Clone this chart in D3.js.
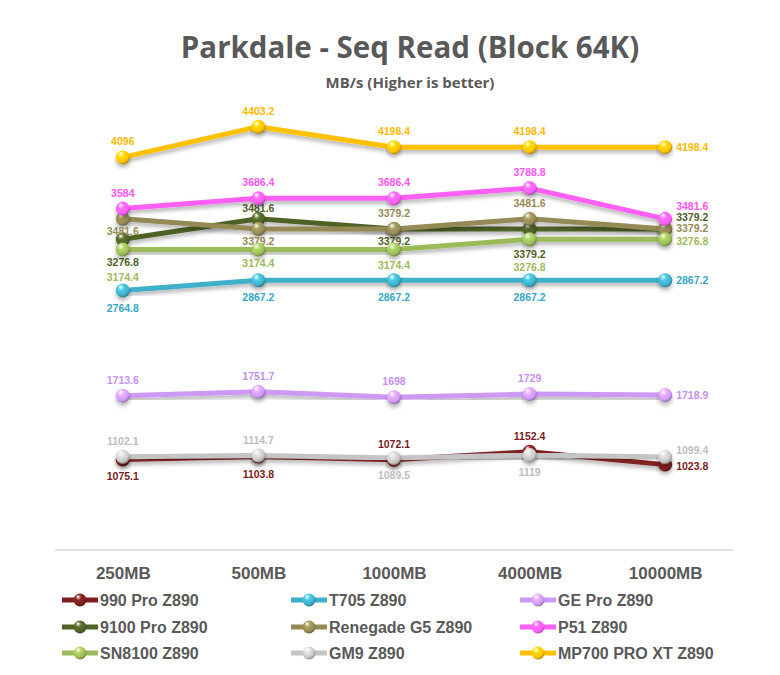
<!DOCTYPE html>
<html>
<head>
<meta charset="utf-8">
<script src="https://cdn.jsdelivr.net/npm/d3@7"></script>
<style>
  body { margin: 0; background: #fff; }
  svg { display: block; }
</style>
</head>
<body>
<script>
// chart data
const sizes = ['250MB', '500MB', '1000MB', '4000MB', '10000MB'];
const seriesNames = ['990 Pro Z890', 'T705 Z890', 'GE Pro Z890', '9100 Pro Z890', 'Renegade G5 Z890',
    'P51 Z890', 'SN8100 Z890', 'GM9 Z890', 'MP700 PRO XT Z890'];
const pro990 = [1075.1, 1103.8, 1072.1, 1152.4, 1023.8];
const t705 = [2764.8, 2867.2, 2867.2, 2867.2, 2867.2];
const gePro = [1713.6, 1751.7, 1698, 1729, 1718.9];
const pro9100 = [3276.8, 3481.6, 3379.2, 3379.2, 3379.2];
const renegadeG5 = [3481.6, 3379.2, 3379.2, 3481.6, 3379.2];
const p51 = [3584, 3686.4, 3686.4, 3788.8, 3481.6];
const sn8100 = [3174.4, 3174.4, 3174.4, 3276.8, 3276.8];
const gm9 = [1102.1, 1114.7, 1089.5, 1119, 1099.4];
const mp700 = [4096, 4403.2, 4198.4, 4198.4, 4198.4];
const allValues = [pro990, t705, gePro, pro9100, renegadeG5, p51, sn8100, gm9, mp700];

// styles
const colors = ['#7f2020', '#3fb0ca', '#cc99f5', '#4f6228', '#948a54', '#ff5ef5', '#9bbb59', '#c4c4c4', '#ffc000'];
const labelColors = ['#7a1c1c', '#35a7c4', '#c490f0', '#4f6228', '#948a54', '#ff55f2', '#9bbb59', '#bdbdbd', '#ffb800'];
// label placement per point: a = above, b = below, r = right, then extra dy
const labelPos = [
    ['b', 'b', 'a', 'a', 'r+1'],
    ['b', 'b', 'b', 'b', 'r'],
    ['a', 'a', 'a', 'a', 'r'],
    ['b+6', 'a+5', 'b-5', 'b+8', 'r-12'],
    ['b-5', 'b-5', 'a', 'a', 'r-1'],
    ['a', 'a', 'a', 'a', 'r-13'],
    ['b+10', 'b-4', 'b-2', 'b+11', 'r+2'],
    ['a', 'a', 'b', 'b', 'r-7'],
    ['a', 'a', 'a', 'a', 'r']
];

const W = 780, H = 675;
const svg = d3.select('body').append('svg')
    .attr('width', W)
    .attr('height', H)
    .style('font-family', 'Liberation Sans, Arial, sans-serif');

const defs = svg.append('defs');

const shadow = defs.append('filter')
    .attr('id', 'shadow')
    .attr('x', '-10%').attr('y', '-50%')
    .attr('width', '120%').attr('height', '200%');
shadow.append('feDropShadow')
    .attr('dx', 0).attr('dy', 3)
    .attr('stdDeviation', 2)
    .attr('flood-color', '#000')
    .attr('flood-opacity', 0.3);

colors.forEach((c, i) => {
    const g = defs.append('radialGradient')
        .attr('id', 'ball' + i)
        .attr('cx', '40%').attr('cy', '35%').attr('r', '65%')
        .attr('fx', '35%').attr('fy', '25%');
    g.append('stop').attr('offset', '0%').attr('stop-color', '#fff').attr('stop-opacity', 0.95);
    g.append('stop').attr('offset', '35%').attr('stop-color', d3.color(c).brighter(0.4));
    g.append('stop').attr('offset', '80%').attr('stop-color', c);
    g.append('stop').attr('offset', '100%').attr('stop-color', d3.color(c).darker(1));
});

// titles
svg.append('text')
    .attr('x', 410).attr('y', 58)
    .attr('text-anchor', 'middle')
    .style('font-family', 'Open Sans, sans-serif')
    .attr('font-size', 29.5).attr('font-weight', 700)
    .attr('fill', '#595959')
    .text('Parkdale - Seq Read (Block 64K)');

svg.append('text')
    .attr('x', 410).attr('y', 88)
    .attr('text-anchor', 'middle')
    .style('font-family', 'Open Sans, sans-serif')
    .attr('font-size', 15).attr('font-weight', 700)
    .attr('fill', '#595959')
    .text('MB/s (Higher is better)');

// scales
const x = d3.scalePoint()
    .domain(sizes)
    .range([55, 733])
    .padding(0.5);

const y = d3.scaleLinear()
    .domain([170, 4600])
    .range([550, 107]);

// category axis
const xAxis = svg.append('g')
    .attr('transform', 'translate(0,550)')
    .call(d3.axisBottom(x).tickSize(0).tickPadding(17));
xAxis.select('.domain').attr('stroke', '#d9d9d9').attr('stroke-width', 1.3)
    .attr('d', 'M55,0H733');
xAxis.selectAll('text')
    .style('font-family', 'Liberation Sans, Arial, sans-serif')
    .attr('font-size', 17).attr('font-weight', 700)
    .attr('fill', '#595959');

// lines
const line = d3.line()
    .x((d, i) => x(sizes[i]))
    .y(d => y(d));

const series = svg.selectAll('.series')
    .data(allValues)
    .enter()
    .append('g')
    .attr('class', 'series');

series.append('path')
    .attr('d', d => line(d))
    .attr('fill', 'none')
    .attr('stroke', (d, i) => colors[i])
    .attr('stroke-width', 5)
    .attr('stroke-linejoin', 'round')
    .attr('filter', 'url(#shadow)');

series.each(function (vals, si) {
    d3.select(this).selectAll('circle')
        .data(vals)
        .enter()
        .append('circle')
        .attr('cx', (d, i) => x(sizes[i]))
        .attr('cy', d => y(d))
        .attr('r', 7)
        .attr('fill', `url(#ball${si})`)
        .attr('filter', 'url(#shadow)');
});

// data labels
series.each(function (vals, si) {
    d3.select(this).selectAll('.lbl')
        .data(vals)
        .enter()
        .append('text')
        .attr('class', 'lbl')
        .attr('x', (d, i) => labelPos[si][i][0] === 'r' ? x(sizes[i]) + 11 : x(sizes[i]))
        .attr('y', (d, i) => {
            const p = labelPos[si][i];
            const extra = p.length > 1 ? +p.slice(1) : 0;
            if (p[0] === 'a') return y(d) - 12 + extra;
            if (p[0] === 'b') return y(d) + 21 + extra;
            return y(d) + 4 + extra;
        })
        .attr('text-anchor', (d, i) => labelPos[si][i][0] === 'r' ? 'start' : 'middle')
        .attr('font-size', 10.5).attr('font-weight', 700)
        .attr('fill', labelColors[si])
        .text(d => d);
});

// legend
const legendX = [62, 291, 520];
const legendY = [600, 627, 653];
const legend = svg.selectAll('.legend')
    .data(seriesNames)
    .enter()
    .append('g')
    .attr('class', 'legend')
    .attr('transform', (d, i) => `translate(${legendX[i % 3]},${legendY[Math.floor(i / 3)]})`);

legend.append('line')
    .attr('x1', 0).attr('x2', 36)
    .attr('stroke', (d, i) => colors[i])
    .attr('stroke-width', 5);

legend.append('circle')
    .attr('cx', 18).attr('r', 6.5)
    .attr('fill', (d, i) => `url(#ball${i})`);

legend.append('text')
    .attr('x', 38).attr('y', 5.5)
    .attr('font-size', 16).attr('font-weight', 700)
    .attr('fill', '#595959')
    .text(d => d);
</script>
</body>
</html>
